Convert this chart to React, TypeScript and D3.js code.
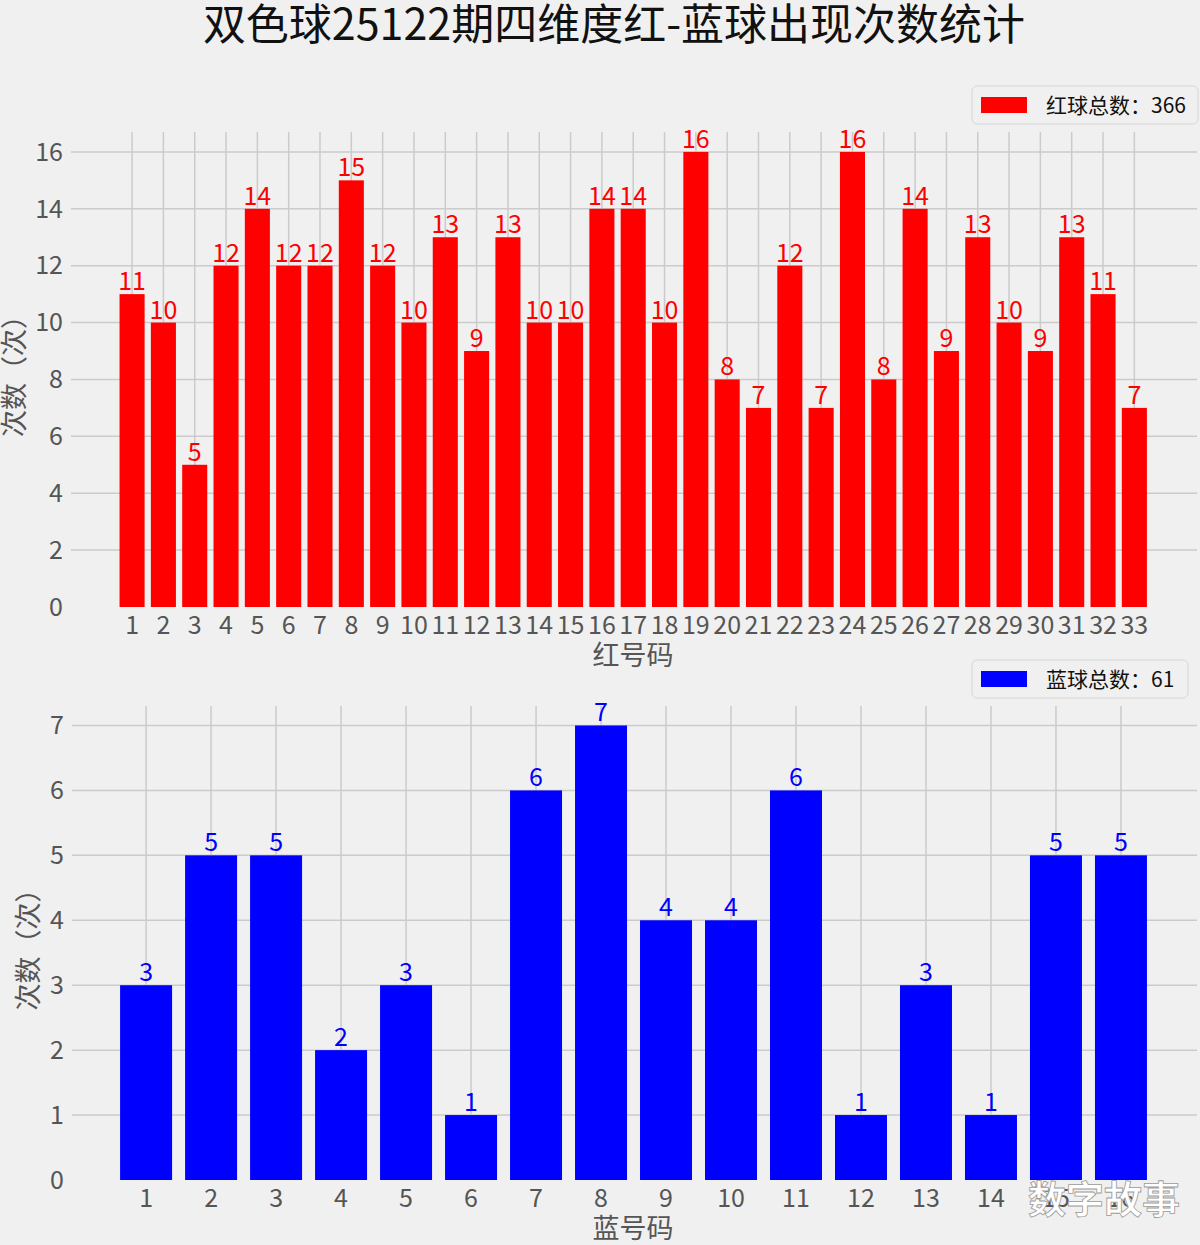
import React from "react";
import * as d3 from "d3";

const redNumbers = d3.range(1, 34);
const redCounts = [11, 10, 5, 12, 14, 12, 12, 15, 12, 10, 13, 9, 13, 10, 10, 14, 14, 10, 16, 8, 7, 12, 7, 16, 8, 14, 9, 13, 10, 9, 13, 11, 7];
const redTicks = [0, 2, 4, 6, 8, 10, 12, 14, 16];

const blueNumbers = d3.range(1, 17);
const blueCounts = [3, 5, 5, 2, 3, 1, 6, 7, 4, 4, 6, 1, 3, 1, 5, 5];
const blueTicks = [0, 1, 2, 3, 4, 5, 6, 7];

const title = "双色球25122期四维度红-蓝球出现次数统计";
const FONT = "'Noto Sans CJK SC', 'Noto Sans', sans-serif";
const BG = "#f0f0f0";
const GRID = "#cbcbcb";
const TICK = "#555555";

interface PanelProps {
  numbers: number[];
  counts: number[];
  ticks: number[];
  color: string;
  xlim: [number, number];
  ylim: [number, number];
  left: number;
  right: number;
  top: number;
  bottom: number;
  xLabel: string;
  yLabelX: number;
  legendText: string;
  legendBox: { x: number; y: number; w: number; h: number };
}

const Panel: React.FC<PanelProps> = (p) => {
  const x = d3.scaleLinear().domain(p.xlim).range([p.left, p.right]);
  const y = d3.scaleLinear().domain(p.ylim).range([p.bottom, p.top]);
  const bw = (x(1) - x(0)) * 0.8;
  const lb = p.legendBox;
  return (
    <g>
      {p.ticks.map((t) => (
        <g key={"y" + t}>
          {t > 0 && (
            <line x1={p.left} x2={p.right} y1={y(t)} y2={y(t)} stroke={GRID} strokeWidth={1.5} />
          )}
          <text x={p.left - 8} y={y(t)} dy="0.35em" textAnchor="end" fontSize={25} fill={TICK}>
            {t}
          </text>
        </g>
      ))}
      {p.numbers.map((n) => (
        <line key={"g" + n} x1={x(n)} x2={x(n)} y1={p.top} y2={p.bottom} stroke={GRID} strokeWidth={1.5} />
      ))}
      {p.numbers.map((n, i) => (
        <g key={"b" + n}>
          <rect x={x(n) - bw / 2} y={y(p.counts[i])} width={bw} height={y(0) - y(p.counts[i])} fill={p.color} />
          <text x={x(n)} y={y(p.counts[i]) - 4} textAnchor="middle" fontSize={25} fill={p.color}>
            {p.counts[i]}
          </text>
          <text x={x(n)} y={p.bottom + 27} textAnchor="middle" fontSize={25} fill={TICK}>
            {n}
          </text>
        </g>
      ))}
      <text x={633} y={p.bottom + 58} textAnchor="middle" fontSize={27} fill={TICK}>
        {p.xLabel}
      </text>
      <text
        transform={`translate(${p.yLabelX},${(p.top + p.bottom) / 2}) rotate(-90)`}
        textAnchor="middle"
        dy="0.35em"
        fontSize={27}
        fill={TICK}
      >
        次数（次）
      </text>
      <rect x={lb.x} y={lb.y} width={lb.w} height={lb.h} rx={5} fill={BG} fillOpacity={0.8} stroke="#d6d6d6" strokeWidth={1} />
      <rect x={lb.x + 9} y={lb.y + 11} width={46} height={16} fill={p.color} />
      <text x={lb.x + 74} y={lb.y + lb.h / 2} dy="0.36em" fontSize={21} fill="#111">
        {p.legendText}
      </text>
    </g>
  );
};

const App: React.FC = () => {
  return (
    <svg
      width={1200}
      height={1245}
      style={{ position: "absolute", left: 0, top: 0, background: BG }}
      fontFamily={FONT}
    >
      <rect width={1200} height={1245} fill={BG} />
      <text x={614} y={40} textAnchor="middle" fontSize={43} fill="#111">
        {title}
      </text>
      <Panel
        numbers={redNumbers}
        counts={redCounts}
        ticks={redTicks}
        color="#ff0000"
        xlim={[-0.95, 35]}
        ylim={[0, 16.7]}
        left={71}
        right={1197}
        top={132}
        bottom={607}
        xLabel="红号码"
        yLabelX={15}
        legendText={"红球总数：" + d3.sum(redCounts)}
        legendBox={{ x: 972, y: 86, w: 226, h: 38 }}
      />
      <Panel
        numbers={blueNumbers}
        counts={blueCounts}
        ticks={blueTicks}
        color="#0000ff"
        xlim={[-0.14, 17.17]}
        ylim={[0, 7.3]}
        left={72}
        right={1197}
        top={706}
        bottom={1180}
        xLabel="蓝号码"
        yLabelX={29}
        legendText={"蓝球总数：" + d3.sum(blueCounts)}
        legendBox={{ x: 972, y: 660, w: 216, h: 38 }}
      />
      <text
        x={1180}
        y={1213}
        textAnchor="end"
        fontSize={38}
        fill="#ffffff"
        stroke="#9a9a9a"
        strokeWidth={0.8}
        fontWeight="bold"
      >
        数字故事
      </text>
    </svg>
  );
};

export default App;
